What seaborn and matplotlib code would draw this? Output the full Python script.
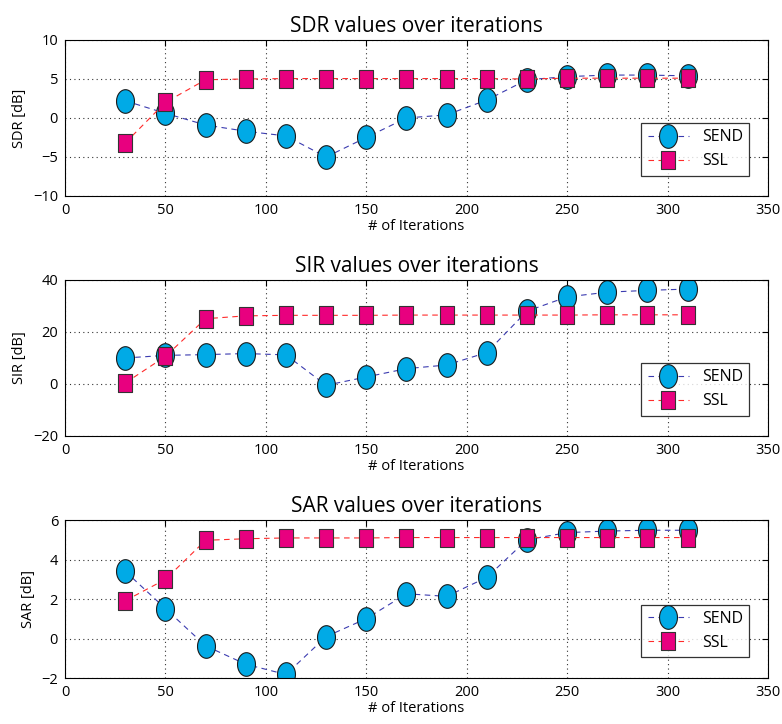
import matplotlib
matplotlib.use("Agg")
import matplotlib.pyplot as plt
import numpy as np
import seaborn as sns
from matplotlib.path import Path

iterations = [30, 50, 70, 90, 110, 130, 150, 170, 190, 210, 230, 250, 270, 290, 310]

sdr_send = [2.2, 0.6, -0.9, -1.7, -2.3, -5.0, -2.5, 0.0, 0.4, 2.3, 4.9, 5.3, 5.5, 5.5, 5.4]
sdr_ssl = [-3.2, 2.0, 4.9, 5.0, 5.05, 5.05, 5.05, 5.05, 5.05, 5.05, 5.0, 5.1, 5.1, 5.1, 5.1]

sir_send = [10.0, 11.0, 11.3, 11.7, 11.2, -0.5, 2.7, 5.9, 7.3, 12.1, 28.0, 33.5, 35.3, 36.0, 36.5]
sir_ssl = [0.4, 10.6, 25.1, 26.2, 26.4, 26.4, 26.4, 26.5, 26.5, 26.5, 26.5, 26.5, 26.6, 26.6, 26.6]

sar_send = [3.41, 1.52, -0.37, -1.3, -1.82, 0.1, 1.01, 2.27, 2.14, 3.1, 5.01, 5.37, 5.45, 5.49, 5.49]
sar_ssl = [1.92, 3.0, 4.98, 5.06, 5.1, 5.1, 5.1, 5.12, 5.12, 5.12, 5.12, 5.12, 5.12, 5.12, 5.12]

panels = [
    ("SDR values over iterations", "SDR [dB]", sdr_send, sdr_ssl, (-10, 10), [-10, -5, 0, 5, 10]),
    ("SIR values over iterations", "SIR [dB]", sir_send, sir_ssl, (-20, 40), [-20, 0, 20, 40]),
    ("SAR values over iterations", "SAR [dB]", sar_send, sar_ssl, (-2, 6), [-2, 0, 2, 4, 6]),
]

sns.set_style("white")
plt.rcParams["font.family"] = ["Open Sans", "DejaVu Sans"]
plt.rcParams["text.color"] = "black"
plt.rcParams["axes.labelcolor"] = "black"
plt.rcParams["xtick.color"] = "black"
plt.rcParams["ytick.color"] = "black"

# stretched markers (the original figure is squashed horizontally)
t = np.linspace(0, 2 * np.pi, 60)
ellipse = Path(np.column_stack([np.cos(t) * 0.76, np.sin(t)]))
rect = Path([(-0.42, -0.5), (0.42, -0.5), (0.42, 0.5), (-0.42, 0.5), (-0.42, -0.5)],
            [Path.MOVETO, Path.LINETO, Path.LINETO, Path.LINETO, Path.CLOSEPOLY])

fig = plt.figure(figsize=(7.82, 7.24), dpi=100)
bottoms = [0.7293, 0.3978, 0.0635]
heights = [0.2155, 0.2155, 0.218]

for (title, ylabel, send, ssl, ylim, yticks), b, h in zip(panels, bottoms, heights):
    ax = fig.add_axes([0.0831, b, 0.899, h])
    sns.lineplot(x=iterations, y=send, ax=ax, color="#3b3bb0", linestyle=(0, (5, 4)),
                 linewidth=0.8, marker=ellipse, markersize=17, markerfacecolor="#00aae6",
                 markeredgecolor="#1a1a1a", markeredgewidth=0.8, label="SEND")
    sns.lineplot(x=iterations, y=ssl, ax=ax, color="#ff2a2a", linestyle=(0, (5, 4)),
                 linewidth=0.8, marker=rect, markersize=12.5, markerfacecolor="#e8007f",
                 markeredgecolor="#333333", markeredgewidth=0.8, label="SSL")
    ax.set_xlim(0, 350)
    ax.set_ylim(*ylim)
    ax.set_xticks(range(0, 351, 50))
    ax.set_yticks(yticks)
    ax.grid(True, linestyle=(0, (1, 3)), color="#333333", linewidth=0.8)
    ax.tick_params(direction="in", top=True, right=True, length=4, labelsize=10.5, pad=5)
    for s in ax.spines.values():
        s.set_color("black")
        s.set_linewidth(0.8)
    ax.set_title(title, fontsize=15, pad=6)
    ax.set_ylabel(ylabel, fontsize=10.5, labelpad=4)
    ax.set_xlabel("# of Iterations", fontsize=10.5, labelpad=1)
    leg = ax.legend(loc="lower right", fontsize=11.5, frameon=True, fancybox=False,
                    edgecolor="black", handlelength=2.6, borderpad=0.4,
                    bbox_to_anchor=(0.985, 0.08))
    leg.get_frame().set_linewidth(0.9)

fig.savefig("out.png", dpi=100)
